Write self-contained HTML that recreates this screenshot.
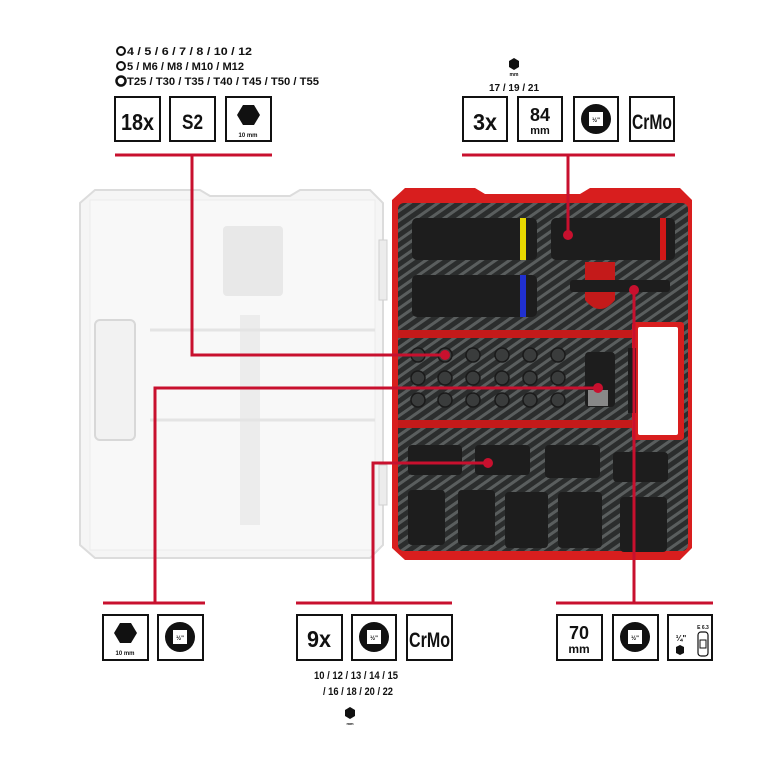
<!DOCTYPE html>
<html><head><meta charset="utf-8"><style>
html,body{margin:0;padding:0;background:#fff;}
svg{display:block;}
text{font-family:"Liberation Sans",sans-serif;font-weight:bold;fill:#111;}
</style></head><body>
<svg width="770" height="770" viewBox="0 0 770 770" xmlns="http://www.w3.org/2000/svg">
<defs>
<pattern id="cf" width="8" height="8" patternUnits="userSpaceOnUse" patternTransform="rotate(-35)">
<rect width="8" height="8" fill="#2b2d2d"/><rect width="8" height="3" fill="#5a5e5e"/>
</pattern>
</defs>

<!-- transparent lid -->
<path d="M95 190 L200 190 L210 196 L290 196 L300 190 L370 190 L383 203 L383 545 L370 558 L95 558 L80 545 L80 203 Z" fill="#f5f5f5" stroke="#dcdcdc" stroke-width="2"/>
<rect x="90" y="200" width="285" height="350" fill="#f8f8f8" stroke="#ececec"/>
<rect x="95" y="320" width="40" height="120" rx="5" fill="#f2f2f2" stroke="#d8d8d8" stroke-width="2"/>
<rect x="223" y="226" width="60" height="70" rx="4" fill="#e8e8e8"/>
<rect x="240" y="315" width="20" height="210" fill="#ececec"/>
<line x1="150" y1="330" x2="375" y2="330" stroke="#e4e4e4" stroke-width="3"/>
<line x1="150" y1="420" x2="375" y2="420" stroke="#e4e4e4" stroke-width="3"/>
<rect x="379" y="240" width="8" height="60" fill="#ececec" stroke="#d0d0d0"/>
<rect x="379" y="465" width="8" height="40" fill="#ececec" stroke="#d0d0d0"/>

<!-- red case -->
<path d="M405 188 L475 188 L485 194 L580 194 L590 188 L680 188 L692 200 L692 548 L680 560 L405 560 L392 548 L392 200 Z" fill="#d81e1e"/>
<rect x="398" y="203" width="290" height="348" rx="6" fill="url(#cf)"/>
<rect x="398" y="330" width="238" height="8" fill="#c41a1a"/>
<rect x="398" y="420" width="238" height="8" fill="#c41a1a"/>
<rect x="632" y="322" width="52" height="118" rx="3" fill="#d81e1e"/>
<rect x="638" y="327" width="40" height="108" rx="2" fill="#fff"/>
<rect x="628" y="348" width="8" height="65" fill="#1d1d1d"/>

<!-- long sockets -->
<rect x="412" y="218" width="125" height="42" rx="5" fill="#1d1d1d"/>
<rect x="520" y="218" width="6" height="42" fill="#e8d800"/>
<rect x="412" y="275" width="125" height="42" rx="5" fill="#1d1d1d"/>
<rect x="520" y="275" width="6" height="42" fill="#2030d0"/>
<rect x="551" y="218" width="124" height="42" rx="5" fill="#1d1d1d"/>
<rect x="660" y="218" width="6" height="42" fill="#d01818"/>
<path d="M585 262 L615 262 L615 300 Q600 318 585 300 Z" fill="#c41a1a"/>
<rect x="570" y="280" width="100" height="12" rx="3" fill="#1d1d1d"/>

<!-- bits -->
<g fill="#3a3c3c" stroke="#1a1a1a" stroke-width="1.5">
<circle cx="418" cy="355" r="7"/><circle cx="445" cy="355" r="7"/><circle cx="473" cy="355" r="7"/><circle cx="502" cy="355" r="7"/><circle cx="530" cy="355" r="7"/><circle cx="558" cy="355" r="7"/>
<circle cx="418" cy="378" r="7"/><circle cx="445" cy="378" r="7"/><circle cx="473" cy="378" r="7"/><circle cx="502" cy="378" r="7"/><circle cx="530" cy="378" r="7"/><circle cx="558" cy="378" r="7"/>
<circle cx="418" cy="400" r="7"/><circle cx="445" cy="400" r="7"/><circle cx="473" cy="400" r="7"/><circle cx="502" cy="400" r="7"/><circle cx="530" cy="400" r="7"/><circle cx="558" cy="400" r="7"/>
</g>
<rect x="585" y="352" width="30" height="55" rx="4" fill="#1d1d1d"/>
<rect x="588" y="390" width="20" height="16" fill="#888"/>

<!-- bottom sockets -->
<g fill="#1d1d1d">
<rect x="408" y="445" width="54" height="30" rx="4"/><rect x="475" y="445" width="55" height="30" rx="4"/>
<rect x="545" y="445" width="55" height="33" rx="4"/><rect x="613" y="452" width="55" height="30" rx="4"/>
<rect x="408" y="490" width="37" height="55" rx="4"/><rect x="458" y="490" width="37" height="55" rx="4"/>
<rect x="505" y="492" width="43" height="56" rx="4"/><rect x="558" y="492" width="44" height="56" rx="4"/>
<rect x="620" y="497" width="47" height="55" rx="4"/>
</g>

<!-- callout lines -->
<g stroke="#c8102e" stroke-width="3" fill="none">
<line x1="115" y1="155" x2="272" y2="155"/><polyline points="192,155 192,355 445,355"/>
<line x1="462" y1="155" x2="675" y2="155"/><line x1="568" y1="155" x2="568" y2="235"/>
<line x1="103" y1="603" x2="205" y2="603"/><polyline points="155,603 155,388 598,388"/>
<line x1="296" y1="603" x2="452" y2="603"/><polyline points="373,603 373,463 488,463"/>
<line x1="556" y1="603" x2="713" y2="603"/><line x1="634" y1="603" x2="634" y2="290"/>
</g>
<g fill="#c8102e"><circle cx="445" cy="355" r="5"/><circle cx="568" cy="235" r="5"/><circle cx="598" cy="388" r="5"/><circle cx="488" cy="463" r="5"/><circle cx="634" cy="290" r="5"/></g>

<!-- top-left text -->
<g font-size="11">
<circle cx="121" cy="51" r="4" fill="none" stroke="#111" stroke-width="2"/><text x="127" y="55" textLength="125" lengthAdjust="spacingAndGlyphs">4 / 5 / 6 / 7 / 8 / 10 / 12</text>
<circle cx="121" cy="66" r="4" fill="none" stroke="#111" stroke-width="2"/><text x="127" y="70" textLength="117" lengthAdjust="spacingAndGlyphs">5 / M6 / M8 / M10 / M12</text>
<circle cx="121" cy="81" r="4.5" fill="none" stroke="#111" stroke-width="2.5"/><text x="127" y="85" textLength="192" lengthAdjust="spacingAndGlyphs">T25 / T30 / T35 / T40 / T45 / T50 / T55</text>
</g>
<g fill="#fff" stroke="#111" stroke-width="2">
<rect x="115" y="97" width="45" height="44"/><rect x="170" y="97" width="45" height="44"/><rect x="226" y="97" width="45" height="44"/>
<rect x="463" y="97" width="44" height="44"/><rect x="518" y="97" width="44" height="44"/><rect x="574" y="97" width="44" height="44"/><rect x="630" y="97" width="44" height="44"/>
<rect x="103" y="615" width="45" height="45"/><rect x="158" y="615" width="45" height="45"/>
<rect x="297" y="615" width="45" height="45"/><rect x="352" y="615" width="44" height="45"/><rect x="407" y="615" width="45" height="45"/>
<rect x="557" y="615" width="45" height="45"/><rect x="613" y="615" width="45" height="45"/><rect x="668" y="615" width="44" height="45"/>
</g>
<text x="121" y="130" font-size="23" textLength="33" lengthAdjust="spacingAndGlyphs">18x</text>
<text x="182" y="129" font-size="21" textLength="21" lengthAdjust="spacingAndGlyphs">S2</text>
<polygon points="243,105 254,105 260,115 254,125 243,125 237,115" fill="#111"/>
<text x="248" y="137" font-size="6" text-anchor="middle">10 mm</text>

<!-- top-right -->
<polygon points="514,58 519,61 519,67 514,70 509,67 509,61" fill="#111"/>
<text x="514" y="76" font-size="5" text-anchor="middle">mm</text>
<text x="514" y="91" font-size="10" text-anchor="middle">17 / 19 / 21</text>
<text x="473" y="130" font-size="23" textLength="24" lengthAdjust="spacingAndGlyphs">3x</text>
<text x="540" y="121" font-size="18" text-anchor="middle" textLength="20" lengthAdjust="spacingAndGlyphs">84</text>
<text x="540" y="134" font-size="11" text-anchor="middle">mm</text>
<circle cx="596" cy="119" r="15" fill="#111"/><rect x="589" y="112" width="14" height="14" fill="#fff"/><text x="596" y="122" font-size="6" text-anchor="middle">½"</text>
<text x="632" y="129" font-size="21" textLength="40" lengthAdjust="spacingAndGlyphs">CrMo</text>

<!-- bottom-left -->
<polygon points="120,623 131,623 137,633 131,643 120,643 114,633" fill="#111"/>
<text x="125" y="655" font-size="6" text-anchor="middle">10 mm</text>
<circle cx="180" cy="637" r="15" fill="#111"/><rect x="173" y="630" width="14" height="14" fill="#fff"/><text x="180" y="640" font-size="6" text-anchor="middle">½"</text>

<!-- bottom-middle -->
<text x="307" y="647" font-size="23" textLength="24" lengthAdjust="spacingAndGlyphs">9x</text>
<circle cx="374" cy="637" r="15" fill="#111"/><rect x="367" y="630" width="14" height="14" fill="#fff"/><text x="374" y="640" font-size="6" text-anchor="middle">½"</text>
<text x="409" y="647" font-size="21" textLength="41" lengthAdjust="spacingAndGlyphs">CrMo</text>
<text x="356" y="679" font-size="11" text-anchor="middle" textLength="84" lengthAdjust="spacingAndGlyphs">10 / 12 / 13 / 14 / 15</text>
<text x="358" y="695" font-size="11" text-anchor="middle" textLength="70" lengthAdjust="spacingAndGlyphs">/ 16 / 18 / 20 / 22</text>
<polygon points="350,707 355,710 355,716 350,719 345,716 345,710" fill="#111"/>
<text x="350" y="725" font-size="4" text-anchor="middle">mm</text>

<!-- bottom-right -->
<text x="579" y="639" font-size="18" text-anchor="middle" textLength="20" lengthAdjust="spacingAndGlyphs">70</text>
<text x="579" y="653" font-size="12" text-anchor="middle">mm</text>
<circle cx="635" cy="637" r="15" fill="#111"/><rect x="628" y="630" width="14" height="14" fill="#fff"/><text x="635" y="640" font-size="6" text-anchor="middle">½"</text>
<text x="703" y="629" font-size="5" text-anchor="middle">E 6.3</text>
<text x="681" y="641" font-size="8" text-anchor="middle">¼"</text>
<polygon points="680,645 684,647 684,653 680,655 676,653 676,647" fill="#111"/>
<rect x="698" y="632" width="10" height="24" rx="3" fill="none" stroke="#111" stroke-width="1.2"/>
<rect x="700" y="640" width="6" height="8" fill="none" stroke="#111" stroke-width="1"/>
</svg>
</body></html>
